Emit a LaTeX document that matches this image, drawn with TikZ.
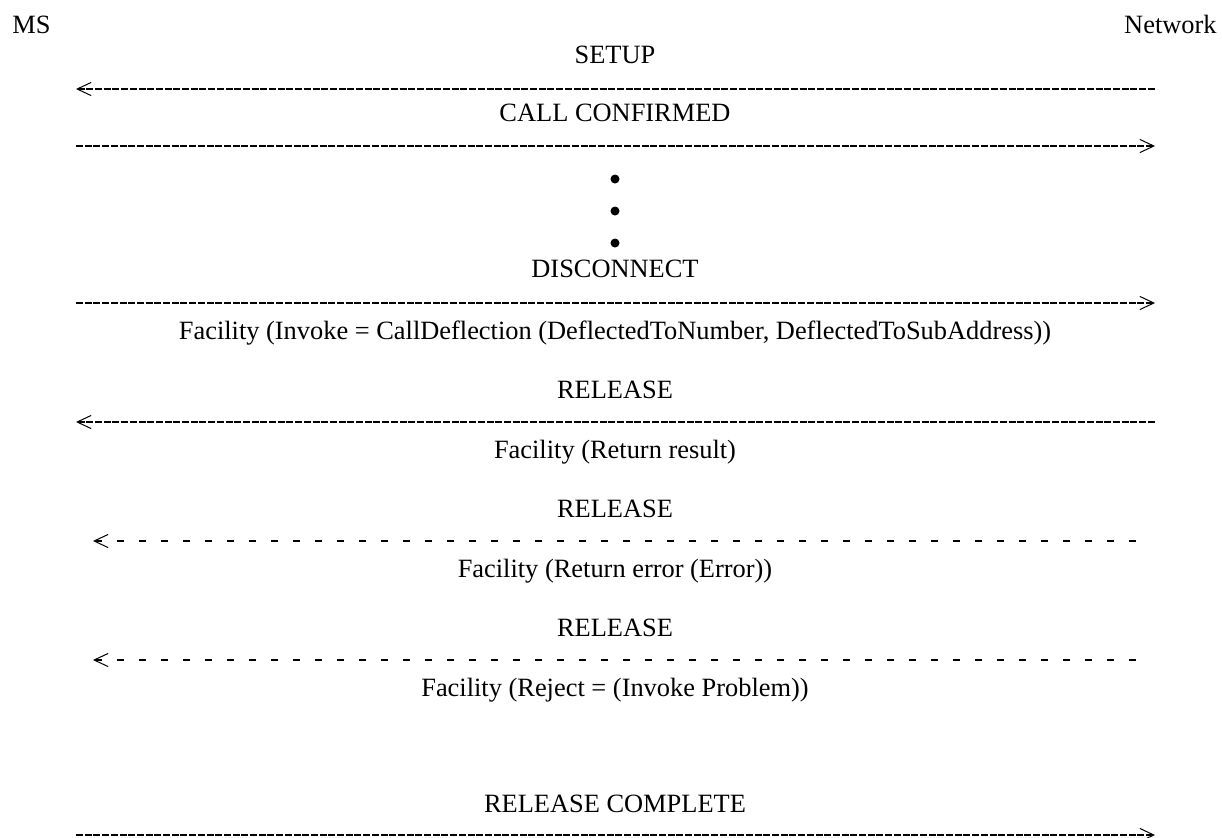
\documentclass[tikz,border=0pt]{standalone}
\usepackage{fontspec}
\setmainfont{Liberation Serif}
\usetikzlibrary{arrows.meta}
\tikzset{
    endlabel/.style={
        inner sep=0pt,
        font=\fontsize{13.2}{15}\selectfont
    },
    msglabel/.style={
        anchor=base,
        inner sep=0pt,
        font=\fontsize{13.2}{15}\selectfont
    },
    msgline/.style={
        draw=black,
        line width=1pt,
        dash pattern=on 3.5pt off 0.85pt,
        >={Straight Barb[length=7pt, width=6.6pt, line width=0.5pt] .}
    },
    optline/.style={
        msgline,
        dash pattern=on 3.5pt off 7.5pt
    },
    dotmark/.style={
        circle,
        fill=black,
        inner sep=0pt,
        minimum size=4.5pt
    }
}
\begin{document}
\begin{tikzpicture}[x=0.5pt, y=-0.5pt]
    \useasboundingbox (0,0) rectangle (1222,837);

    % Sides
    \node[endlabel, anchor=base west] (ms) at (12,33) {MS};
    \node[endlabel, anchor=base east] (nw) at (1217,33) {Network};

    % Arrow ends
    \coordinate (setupL) at (76,89);      \coordinate (setupR) at (1155,89);
    \coordinate (confL) at (76,146);      \coordinate (confR) at (1155,146);
    \coordinate (discL) at (76,303);      \coordinate (discR) at (1155,303);
    \coordinate (relaL) at (76,422);      \coordinate (relaR) at (1155,422);
    \coordinate (relbL) at (93,541);      \coordinate (relbR) at (1137,541);
    \coordinate (relcL) at (93,660);      \coordinate (relcR) at (1137,660);
    \coordinate (compL) at (76,835);      \coordinate (compR) at (1155,835);

    % Call setup
    \node[msglabel] (setup) at (615,63) {SETUP};
    \draw[msgline, <-] (setupL) -- (setupR);
    \node[msglabel] (conf) at (615,121) {CALL CONFIRMED};
    \draw[msgline, ->] (confL) -- (confR);

    % Dots
    \node[dotmark] (dota) at (615,179) {};
    \node[dotmark] (dotb) at (615,211) {};
    \node[dotmark] (dotc) at (615,243) {};

    % Deflection request
    \node[msglabel] (disc) at (615,277) {DISCONNECT};
    \draw[msgline, ->] (discL) -- (discR);
    \node[msglabel] (invoke) at (615,339) {Facility (Invoke = CallDeflection (DeflectedToNumber, DeflectedToSubAddress))};

    % Network answers
    \node[msglabel] (rela) at (615,398) {RELEASE};
    \draw[msgline, <-] (relaL) -- (relaR);
    \node[msglabel] (result) at (615,458) {Facility (Return result)};

    \node[msglabel] (relb) at (615,517) {RELEASE};
    \draw[optline, <-] (relbL) -- (relbR);
    \node[msglabel] (error) at (615,577) {Facility (Return error (Error))};

    \node[msglabel] (relc) at (615,636) {RELEASE};
    \draw[optline, <-] (relcL) -- (relcR);
    \node[msglabel] (reject) at (615,696) {Facility (Reject = (Invoke Problem))};

    % Clearing
    \node[msglabel] (comp) at (615,812) {RELEASE COMPLETE};
    \draw[msgline, ->] (compL) -- (compR);
\end{tikzpicture}
\end{document}
